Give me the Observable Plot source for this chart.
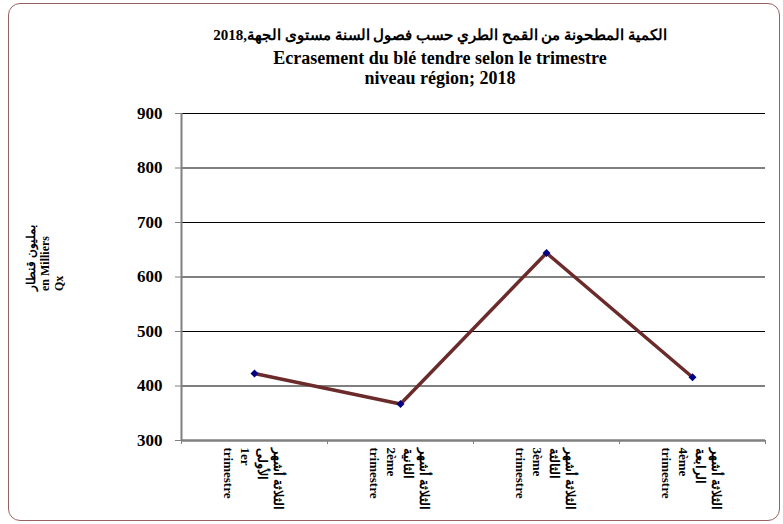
<!DOCTYPE html>
<html>
<head>
<meta charset="utf-8">
<script src="https://cdn.jsdelivr.net/npm/d3@7"></script>
<script src="https://cdn.jsdelivr.net/npm/@observablehq/plot@0.6"></script>
<style>
  body { margin: 0; background: #fff; }
  #wrap { position: relative; width: 783px; height: 524px; overflow: hidden;
          font-family: "Liberation Serif", "Times New Roman", "DejaVu Serif", serif; }
  #border { position: absolute; left: 8px; top: 3px; width: 772px; height: 518px;
            border: 1.5px solid #94625f; border-radius: 12px; box-sizing: border-box; pointer-events: none; }
  #title { position: relative; height: 95px; }
  #title div { position: absolute; left: 190px; width: 500px; text-align: center;
               font-weight: bold; font-size: 18px; line-height: 21px; white-space: nowrap; color: #000; }
  #chart svg { display: block; }
</style>
</head>
<body>
<div id="wrap">
  <div id="border"></div>
  <div id="title">
    <div style="top:25px;font-size:15px" dir="rtl">الكمية المطحونة من القمح الطري حسب فصول السنة مستوى الجهة,2018</div>
    <div style="top:48px">Ecrasement du blé tendre selon le trimestre</div>
    <div style="top:68px">niveau région; 2018</div>
  </div>
  <div id="chart"></div>
</div>
<script>
// ---- data ----
const quarters = ["1er trimestre", "2ème trimestre", "3ème trimestre", "4ème trimestre"];
const quarterLabelsAr = ["الثلاثة أشهر\nالأولى", "الثلاثة أشهر\nالثانية", "الثلاثة أشهر\nالثالثة", "الثلاثة أشهر\nالرابعة"];
const quarterLabelsFr = ["1er\ntrimestre", "2ème\ntrimestre", "3ème\ntrimestre", "4ème\ntrimestre"];
const values = [423, 367, 644, 416];
const yTicks = [300, 400, 500, 600, 700, 800, 900];
const yLabel = "بمليون قنطار\nen Milliers\nQx";

const data = quarters.map((q, i) => ({
  q, i, v: values[i],
  label: quarterLabelsAr[i] + "\n" + quarterLabelsFr[i]
}));
const pos = d => d.i + 0.5;
const bandEdges = d3.range(0, quarters.length + 1);

const chart = Plot.plot({
  width: 783,
  height: 429,
  marginLeft: 181,
  marginRight: 18,
  marginTop: 18,
  marginBottom: 84,
  style: { fontFamily: "Liberation Serif, 'Times New Roman', 'DejaVu Serif', serif", background: "transparent", overflow: "visible", color: "#000" },
  x: { type: "linear", domain: [0, quarters.length], axis: null },
  y: { domain: [300, 900], axis: null },
  marks: [
    Plot.ruleY(yTicks.filter(t => t > 300), { stroke: "#000", strokeWidth: 1 }),
    Plot.axisY({ ticks: yTicks, tickSize: 6, tickPadding: 13, fontSize: 17, fontWeight: "bold",
                 stroke: "#808080", fill: "#000", label: null, tickFormat: d => String(d) }),
    Plot.ruleX([0], { y1: 300, y2: 900, stroke: "#808080", strokeWidth: 2 }),
    Plot.ruleY([300], { stroke: "#808080", strokeWidth: 2.5 }),
    Plot.axisX({ ticks: bandEdges, tickSize: 4, tickFormat: () => "", stroke: "#808080", label: null }),
    Plot.text(data, { x: pos, frameAnchor: "bottom", text: "label", rotate: 90,
                      textAnchor: "start", lineAnchor: "middle", lineHeight: 1.3,
                      dy: 7, fontSize: 13, fontWeight: "bold", fill: "#000" }),
    Plot.text([yLabel], { frameAnchor: "left", text: d => d, rotate: -90, dx: -137, dy: 14,
                          fontSize: 12, fontWeight: "bold", lineHeight: 1.15, fill: "#000" }),
    Plot.line(data, { x: pos, y: "v", stroke: "#6b2b2b", strokeWidth: 3.5 }),
    Plot.dot(data, { x: pos, y: "v", symbol: "diamond2", r: 3.6, fill: "#000080", stroke: "none" })
  ]
});
document.getElementById("chart").appendChild(chart);
</script>
</body>
</html>
